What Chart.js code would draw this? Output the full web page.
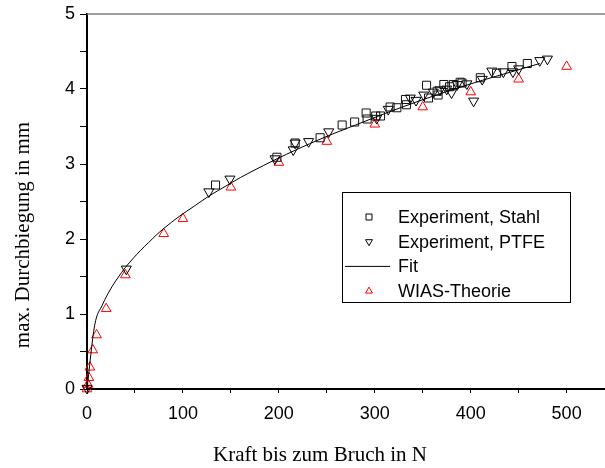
<!DOCTYPE html>
<html lang="de">
<head>
  <meta charset="UTF-8">
  <title>max. Durchbiegung</title>
  <script src="https://cdn.jsdelivr.net/npm/chart.js"></script>
  <style>
    html, body { margin: 0; padding: 0; background: #fff; }
    #wrap { width: 605px; height: 468px; position: relative; }
  </style>
</head>
<body>
  <div id="wrap"><canvas id="chart"></canvas></div>

  <script>
    // Experiment, Stahl (squares)
    const stahlX = [134, 198, 217, 243, 266, 279, 291, 292, 301, 306, 316, 323, 332, 333, 354, 356, 365, 366, 372, 378, 382, 389, 391, 410, 427, 443, 459];
    const stahlY = [2.72, 3.09, 3.28, 3.35, 3.52, 3.56, 3.68, 3.60, 3.64, 3.64, 3.76, 3.75, 3.86, 3.79, 4.05, 3.88, 3.97, 3.92, 4.06, 4.03, 4.06, 4.09, 4.08, 4.15, 4.21, 4.30, 4.34];

    // Experiment, PTFE (down triangles)
    const ptfeX = [0, 41, 127, 149, 196, 215, 217, 231, 252, 302, 314, 337, 343, 351, 361, 368, 375, 380, 386, 396, 403, 412, 422, 434, 444, 450, 472, 480];
    const ptfeY = [0.01, 1.60, 2.63, 2.80, 3.07, 3.19, 3.28, 3.30, 3.43, 3.61, 3.73, 3.88, 3.85, 3.92, 3.96, 3.99, 4.00, 3.95, 4.06, 4.07, 3.84, 4.13, 4.24, 4.23, 4.23, 4.27, 4.38, 4.40];

    // Fit curve
    const fitX = [0, 8, 16, 24, 32, 40, 48, 56, 64, 72, 80, 96, 112, 128, 144, 160, 184, 208, 232, 256, 280, 312, 344, 376, 408, 440, 472];
    const fitY = [0, 0.85, 1.12, 1.32, 1.48, 1.62, 1.74, 1.85, 1.95, 2.05, 2.14, 2.30, 2.44, 2.58, 2.70, 2.82, 2.98, 3.13, 3.27, 3.40, 3.52, 3.68, 3.83, 3.97, 4.10, 4.22, 4.34];

    // WIAS-Theorie (red triangles)
    const wiasX = [0, 1, 2, 3, 6, 10, 20, 40, 80, 100, 150, 200, 250, 300, 350, 400, 450, 500];
    const wiasY = [0, 0.06, 0.15, 0.29, 0.52, 0.72, 1.07, 1.52, 2.07, 2.27, 2.69, 3.02, 3.30, 3.53, 3.76, 3.96, 4.13, 4.30];

    const xTitle = 'Kraft bis zum Bruch in N';
    const yTitle = 'max. Durchbiegung in mm';

    const pts = (xs, ys) => xs.map((x, i) => ({ x: x, y: ys[i] }));

    const SANS = '"Liberation Sans", Arial, sans-serif';
    const SERIF = '"Liberation Serif", "Times New Roman", serif';

    // small marker shapes for the legend
    function marker(ctx, style, x, y, r) {
      ctx.beginPath();
      if (style === 'rect') {
        ctx.rect(x - r, y - r, 2 * r, 2 * r);
      } else if (style === 'down') {
        ctx.moveTo(x - r * 0.87, y - r * 0.5);
        ctx.lineTo(x + r * 0.87, y - r * 0.5);
        ctx.lineTo(x, y + r);
        ctx.closePath();
      } else {
        ctx.moveTo(x, y - r);
        ctx.lineTo(x + r * 0.87, y + r * 0.5);
        ctx.lineTo(x - r * 0.87, y + r * 0.5);
        ctx.closePath();
      }
      ctx.stroke();
    }

    const extras = {
      id: 'extras',
      afterDraw(chart) {
        const ctx = chart.ctx;
        const a = chart.chartArea;
        ctx.save();

        // grey top frame line
        ctx.strokeStyle = '#808080';
        ctx.lineWidth = 1.5;
        ctx.beginPath();
        ctx.moveTo(a.left, a.top);
        ctx.lineTo(chart.width, a.top);
        ctx.stroke();

        // axis titles
        ctx.fillStyle = '#000';
        ctx.font = '21px ' + SERIF;
        ctx.textAlign = 'center';
        ctx.textBaseline = 'alphabetic';
        ctx.fillText(xTitle, 320, 461);
        ctx.translate(29, 235);
        ctx.rotate(-Math.PI / 2);
        ctx.fillText(yTitle, 0, 0);
        ctx.setTransform(1, 0, 0, 1, 0, 0);

        // legend
        ctx.strokeStyle = '#000';
        ctx.lineWidth = 1;
        ctx.strokeRect(342.5, 192.5, 228, 110);
        const rows = [
          { label: chart.data.datasets[1].label, kind: 'rect', color: '#000' },
          { label: chart.data.datasets[2].label, kind: 'down', color: '#000' },
          { label: chart.data.datasets[0].label, kind: 'line', color: '#000' },
          { label: chart.data.datasets[3].label, kind: 'up', color: '#ff0000' }
        ];
        ctx.font = '18px ' + SANS;
        ctx.textAlign = 'left';
        ctx.textBaseline = 'middle';
        rows.forEach((r, i) => {
          const y = 217 + i * 24.7;
          ctx.strokeStyle = r.color;
          ctx.lineWidth = 1;
          if (r.kind === 'line') {
            ctx.beginPath();
            ctx.moveTo(345, y);
            ctx.lineTo(390, y);
            ctx.stroke();
          } else if (r.kind === 'rect') {
            marker(ctx, 'rect', 369, y, 3);
          } else {
            marker(ctx, r.kind, 369, y, 4);
          }
          ctx.fillStyle = '#000';
          ctx.fillText(r.label, 398, y + 1);
        });
        ctx.restore();
      }
    };

    const axisGrid = (len) => ({
      display: true,
      drawOnChartArea: false,
      drawTicks: true,
      tickLength: len,
      color: '#000',
      lineWidth: 1
    });

    new Chart(document.getElementById('chart'), {
      type: 'scatter',
      data: {
        datasets: [
          {
            label: 'Fit',
            data: pts(fitX, fitY),
            showLine: true,
            pointRadius: 0,
            borderColor: '#000',
            borderWidth: 1,
            cubicInterpolationMode: 'monotone',
            clip: false,
            order: 0
          },
          {
            label: 'Experiment, Stahl',
            data: pts(stahlX, stahlY),
            pointStyle: 'rect',
            pointRadius: 5.7,
            pointBorderWidth: 1,
            borderColor: '#111',
            backgroundColor: 'rgba(0,0,0,0)',
            clip: false,
            order: 1
          },
          {
            label: 'Experiment, PTFE',
            data: pts(ptfeX, ptfeY),
            pointStyle: 'triangle',
            rotation: 180,
            pointRadius: 5.8,
            pointBorderWidth: 1,
            borderColor: '#000',
            backgroundColor: 'rgba(0,0,0,0)',
            clip: false,
            order: 2
          },
          {
            label: 'WIAS-Theorie',
            data: pts(wiasX, wiasY),
            pointStyle: 'triangle',
            pointRadius: 5.6,
            pointBorderWidth: 1,
            borderColor: '#ff0000',
            backgroundColor: 'rgba(0,0,0,0)',
            clip: false,
            order: 3
          }
        ]
      },
      options: {
        responsive: true,
        maintainAspectRatio: false,
        animation: false,
        layout: { autoPadding: false, padding: { top: 14, right: 0, left: 0, bottom: 0 } },
        plugins: {
          legend: { display: false },
          tooltip: { enabled: false }
        },
        scales: {
          x: {
            type: 'linear',
            bounds: 'data',
            min: 0,
            max: 540,
            afterBuildTicks: s => { s.ticks = s.ticks.filter(t => t.value <= 540); },
            afterFit: s => { s.height = 79; s.paddingLeft = 0; s.paddingRight = 0; },
            border: { display: true, color: '#000', width: 2 },
            grid: axisGrid(4),
            ticks: {
              stepSize: 50,
              includeBounds: false,
              autoSkip: false,
              maxRotation: 0,
              padding: 10,
              color: '#000',
              font: { family: SANS, size: 18 },
              callback: v => (v % 100 === 0 ? v : '')
            }
          },
          y: {
            type: 'linear',
            min: 0,
            max: 5,
            afterFit: s => { s.width = 87; s.paddingTop = 0; s.paddingBottom = 0; },
            border: { display: true, color: '#000', width: 2 },
            grid: axisGrid(7),
            ticks: {
              stepSize: 0.5,
              autoSkip: false,
              padding: 5,
              color: '#000',
              font: { family: SANS, size: 18 },
              callback: v => (Number.isInteger(v) ? v : '')
            }
          }
        }
      },
      plugins: [extras]
    });
  </script>
</body>
</html>
